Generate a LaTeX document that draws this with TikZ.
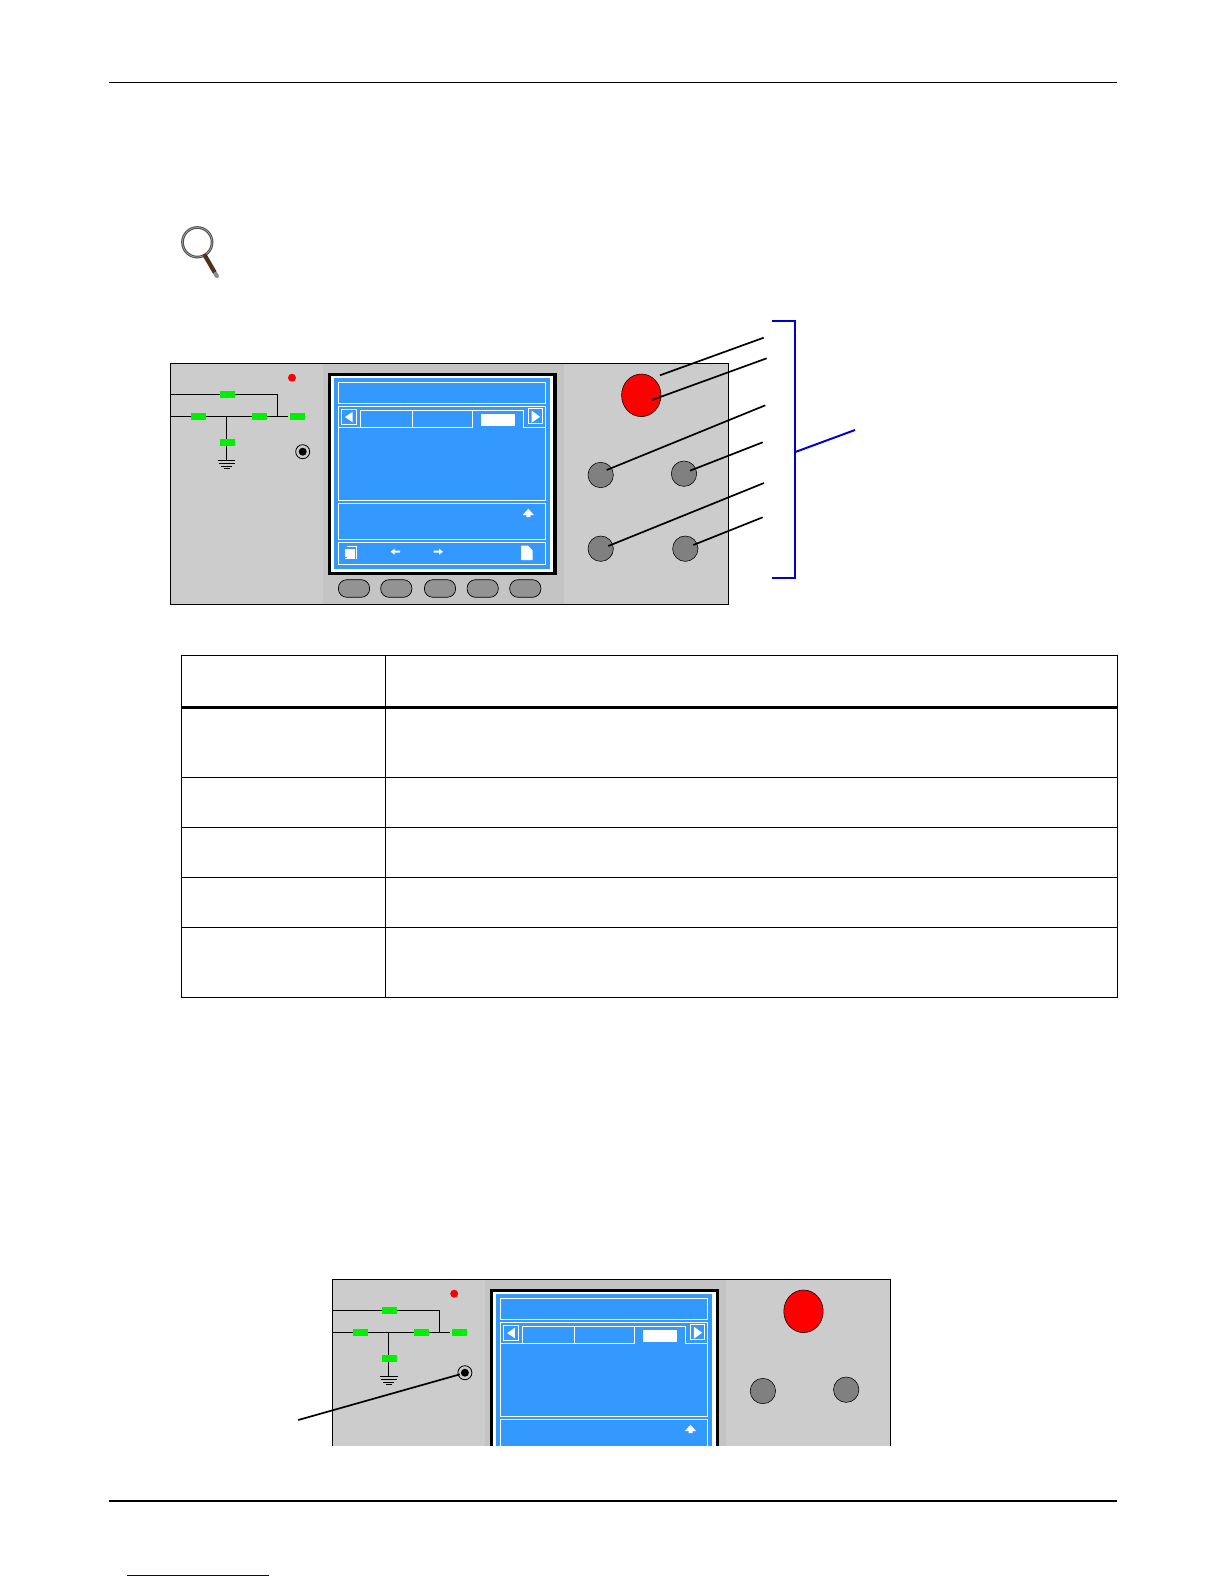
\documentclass[tikz,border=0pt]{standalone}
\definecolor{panelgray}{HTML}{CCCCCC}
\definecolor{stripgray}{HTML}{C4C4C4}
\definecolor{screenblue}{HTML}{3399FF}
\definecolor{knobgray}{HTML}{808080}
\definecolor{ledgreen}{HTML}{00F000}
\definecolor{wireblue}{HTML}{0000CC}
\tikzset{
  rule/.style={black, line width=.8pt},
  wire/.style={black, line width=.7pt},
  scrline/.style={white, line width=.7pt},
  lamp/.style={ledgreen, line width=0pt},
  knob/.style={fill=knobgray, draw=black, line width=.4pt},
  leader/.style={black, line width=1.2pt},
  softkey/.style={fill=knobgray!85!white, draw=black, line width=.5pt, rounded corners=6pt}
}
\begin{document}
\begin{tikzpicture} [x=.025cm, y=-.025cm]
\useasboundingbox (0,0) rectangle (1224,1584);
\fill[white] (0,0) rectangle (1224,1584);
\draw[rule] (109,82.5) -- (1117,82.5);
\draw[rule] (109,1501) -- (1117,1501);
\draw[blue!50!black, line width=.8pt] (127,1575.3) -- (269,1575.3);
\draw[black!70, line width=1.9pt] (197.3,242.3) circle (14.8);
\draw[black!35, line width=.5pt] (197.3,242.3) circle (14.8);
\draw[black!60!brown, line width=3pt, line cap=round] (205,255.7) -- (214.5,272);
\draw[black!45, line width=3pt, line cap=round] (215.6,274) -- (216.8,276);
\foreach \dx/\dy/\cy/\jy/\n in {0/0/650/451.7/1, 162.2/916/529.7/456.7/2} {
\begin{scope}[shift={(\dx,\dy)}]
\clip (160,350) rectangle (740,\cy);
\fill[panelgray] (170,363.5) rectangle (728.3,604);
\fill[stripgray] (323,363.5) rectangle (564,604);
\draw[black, line width=.7pt] (170,363.5) rectangle (728.3,604);
\fill[red] (292,377.7) circle (4);
\draw[wire] (170,394.3) -- (277.3,394.3) -- (277.3,416.3);
\draw[wire] (170,416.3) -- (287.7,416.3);
\draw[wire] (226.3,416.3) -- (226.3,460);
\draw[wire] (217.5,460) -- (235.3,460);
\draw[wire] (218.5,463.3) -- (234.5,463.3);
\draw[wire] (221,466) -- (232,466);
\draw[wire] (223.5,468.3) -- (229.5,468.3);
\foreach \x/\y in {227.5/394.3, 198.5/416.3, 259.5/416.3, 297.5/416.3, 227.5/442.5} {
 \fill[lamp] (\x-7.5,\y-3.5) rectangle (\x+7.5,\y+3.5);
}
\coordinate (jack\n) at (302.7,\jy);
\draw[black, line width=.6pt] (jack\n) circle (7);
\fill[black] (jack\n) circle (4);
\draw[black, fill=white, line width=2.4pt] (329.4,374.4) rectangle (555,573.6);
\fill[screenblue] (334,378) rectangle (550,568.7);
\draw[scrline] (338.3,382.3) rectangle (545.7,403.3);
\draw[scrline] (338.3,406.7) rectangle (545.7,500.7);
\draw[scrline] (338.3,503.3) rectangle (545.7,539.3);
\draw[scrline] (338.3,542.3) rectangle (545.7,564.3);
\draw[scrline] (338.3,427.3) -- (472.7,427.3) -- (472.7,410.7) -- (360.3,410.7) -- (360.3,427.3);
\draw[scrline] (412.3,410.7) -- (412.3,427.3);
\draw[scrline] (472.7,410.7) -- (523.3,410.7) -- (523.3,427.3) -- (545.7,427.3);
\fill[white] (481,414) rectangle (515,426);
\draw[scrline, fill=screenblue] (341.3,409.3) rectangle (356.7,424.7);
\fill[white] (345,417) -- (352.7,411.7) -- (352.7,422.3) -- cycle;
\draw[scrline, fill=screenblue] (528.3,408.3) rectangle (542.7,423.7);
\fill[white] (531.7,410.7) -- (540,416.7) -- (531.7,422.7) -- cycle;
\fill[white] (528.3,508.7) -- (533.8,515) -- (530.3,515) -- (530.3,517) -- (526.3,517) -- (526.3,515) -- (522.8,515) -- cycle;
\fill[white] (345,549) rectangle (354.5,559.3);
\draw[white, line width=.9pt] (347,546.5) -- (356.3,546.5) -- (356.3,559);
\fill[screenblue] (345,556.5) rectangle (346.5,558);
\foreach \x/\s in {395.3/1, 438.3/-1} {
 \fill[white] (\x-4.7*\s,551.7) -- (\x-.7*\s,548.7) -- (\x-.7*\s,550.7) -- (\x+4.7*\s,550.7) -- (\x+4.7*\s,552.7) -- (\x-.7*\s,552.7) -- (\x-.7*\s,554.7) -- cycle;
}
\fill[white] (521,545.7) -- (528,545.7) -- (532.7,550.5) -- (532.7,560) -- (521,560) -- cycle;
\foreach \x in {354,396.3,440,482.7,525.3} {
 \draw[softkey] (\x-15.6,579.7) rectangle (\x+15.6,597.3);
}
\draw[black, fill=red, line width=.4pt] (641.3,395.3) ellipse (19.7 and 21.3);
\foreach \x/\y in {600.7/475, 684/473.7, 600.7/548.7, 685.3/548.7} {
 \draw[knob] (\x,\y) circle (12.7);
}
\end{scope}
}
\foreach \name/\ax/\ay/\bx/\by in {a/660/375.3/763.7/337.7, b/652/400/766.7/358.3, c/606.7/470/765.3/405.3, d/690/470.7/762.7/442.3, e/608.3/546/764/483, f/693.3/545/762.7/517.3} {
 \coordinate (tip\name) at (\ax,\ay);
 \coordinate (out\name) at (\bx,\by);
 \draw[leader] (tip\name) -- (out\name);
}
\coordinate (jacktip) at (460,1374.3);
\coordinate (jackout) at (298.2,1420);
\draw[leader] (jacktip) -- (jackout);
\draw[wireblue, line width=1.4pt] (772,320.7) -- (795.3,320.7) -- (795.3,577.7) -- (772,577.7);
\coordinate (brace) at (795.3,452);
\coordinate (braceout) at (855,430);
\draw[wireblue, line width=1.4pt] (brace) -- (braceout);
\draw[black, line width=.75pt] (181.3,655.3) rectangle (1117.3,997.3);
\draw[black, line width=.75pt] (385.3,655.3) -- (385.3,997.3);
\draw[black, line width=1.9pt] (181.3,707.3) -- (1117.3,707.3);
\foreach \y in {777.5,827.5,877.5,927.5} {
 \draw[black, line width=.75pt] (181.3,\y) -- (1117.3,\y);
}
\end{tikzpicture}
\end{document}
